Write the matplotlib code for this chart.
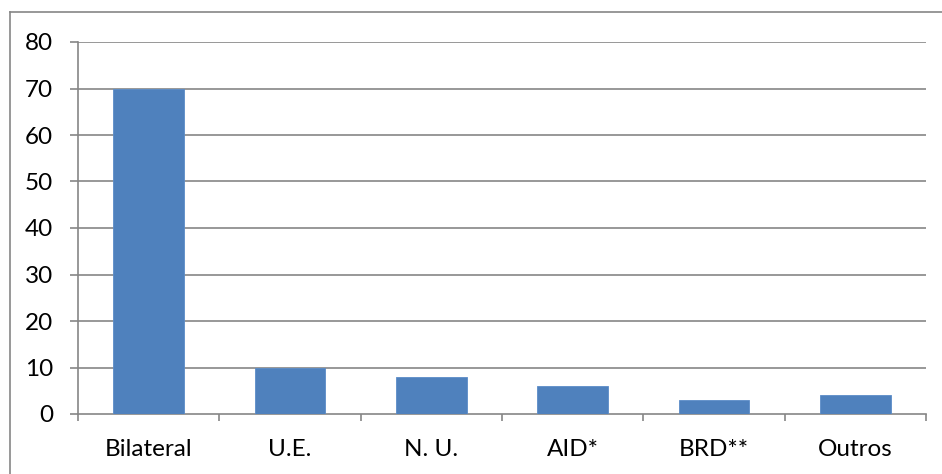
import matplotlib
matplotlib.use("Agg")
import matplotlib.pyplot as plt
from matplotlib.lines import Line2D
import numpy as np

categories = ["Bilateral", "U.E.", "N. U.", "AID*", "BRD**", "Outros"]
values = [70, 10, 8, 6, 3, 4]
yticks = [0, 10, 20, 30, 40, 50, 60, 70, 80]

plt.rcParams['font.family'] = ['Lato', 'DejaVu Sans']

W, H = 942, 474
fig = plt.figure(figsize=(W/100, H/100), dpi=100)
ax = fig.add_axes([78/W, 1-414/H, (926-78)/W, (414-42)/H])

grid = '#868686'
x = np.arange(len(categories))
ax.bar(x, values, width=0.5, color='#4F81BD', edgecolor='#5B8CC8', linewidth=0.6, zorder=3)
ax.set_xlim(-0.5, len(categories)-0.5)
ax.set_ylim(0, 80)
ax.set_yticks(yticks)
ax.set_yticklabels([str(v) for v in yticks], fontsize=17.5)
for v in yticks[1:]:
    ax.axhline(v, color=grid, lw=1.2, zorder=1)
ax.tick_params(axis='y', length=6, width=1.2, color=grid, pad=12)
ax.set_xticks(x)
ax.set_xticklabels(categories, fontsize=17.5)
ax.tick_params(axis='x', which='major', length=0, pad=18)
ax.set_xticks(np.arange(len(categories)+1)-0.5, minor=True)
ax.tick_params(axis='x', which='minor', length=5, width=1.2, color=grid)
for s in ['top', 'right']:
    ax.spines[s].set_visible(False)
for s in ['left', 'bottom']:
    ax.spines[s].set_color(grid)
    ax.spines[s].set_linewidth(1.2)

# outer chart border (top and left visible)
fig.add_artist(Line2D([10/W, 1], [1-12/H, 1-12/H], color=grid, lw=1.2, transform=fig.transFigure))
fig.add_artist(Line2D([10/W, 10/W], [0, 1-12/H], color=grid, lw=1.2, transform=fig.transFigure))

fig.savefig("out.png", dpi=100)
